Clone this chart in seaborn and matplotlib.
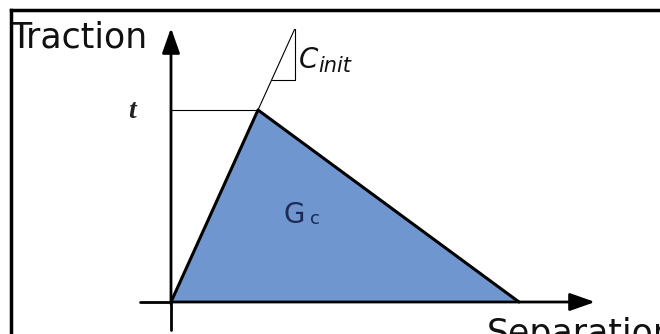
import matplotlib
matplotlib.use("Agg")
import matplotlib.pyplot as plt
import seaborn as sns
import pandas as pd

# Traction-separation law (bilinear), normalised units
separation = [0.0, 1.0, 4.0]      # origin, damage onset, full separation
traction = [0.0, 1.0, 0.0]
stiff_ext = [0.0, 1.42]            # extension of initial stiffness line
onset_label = "t"
x_label = "Separation"
y_label = "Traction"
area_label = "G"
area_sub = "c"
stiff_label = "C"
stiff_sub = "init"

sns.set_theme(style="white")
plt.rcParams["font.family"] = ["DejaVu Sans"]

# pixel geometry -> data scaling
W, H = 660, 334
ox, oy = 171, 302
sx, sy = 87.0, 192.0

fig = plt.figure(figsize=(W / 100, H / 100), dpi=100)
ax = fig.add_axes([0, 0, 1, 1])
ax.set_xlim(-ox / sx, (W - ox) / sx)
ax.set_ylim(-(H - oy) / sy, oy / sy)
ax.axis("off")

df = pd.DataFrame({"sep": separation, "trac": traction})

# filled area (fracture energy)
ax.fill(df["sep"], df["trac"], color="#7096cf", zorder=1, lw=0)

# outer frame
ax.plot([-160 / sx, -160 / sx], [-1, 292 / sy], color="black", lw=2.5, zorder=5, solid_capstyle="projecting")
ax.plot([-160 / sx, 10], [292 / sy, 292 / sy], color="black", lw=2.5, zorder=5, solid_capstyle="projecting")

arrow = dict(arrowstyle="-|>,head_length=0.85,head_width=0.3", lw=2.0, color="black",
             shrinkA=0, shrinkB=0, mutation_scale=18)
# axes with arrows
ax.plot([0, 0], [-28 / sy, 0.0], color="black", lw=2.0, zorder=3)
ax.annotate("", xy=(0, 274 / sy), xytext=(0, -0.01), arrowprops=arrow, zorder=3)
ax.plot([-31 / sx, 0.0], [0, 0], color="black", lw=2.0, zorder=3)
ax.annotate("", xy=(424 / sx, 0), xytext=(0, 0), arrowprops=arrow, zorder=3)

# triangle edges
sns.lineplot(data=df, x="sep", y="trac", sort=False, estimator=None, color="black", lw=2.2, ax=ax, zorder=4)

# onset guide line and stiffness extension
ax.plot([0, separation[1]], [traction[1], traction[1]], color="black", lw=0.8, zorder=2)
ax.plot([separation[1], stiff_ext[1]], [traction[1], stiff_ext[1]], color="black", lw=0.8, zorder=2)
# small slope triangle
yb = (302 - 80) / sy
ax.plot([yb, stiff_ext[1], stiff_ext[1]], [yb, yb, stiff_ext[1]], color="black", lw=0.8, zorder=2)

# texts
ax.text(-161 / sx, 255 / sy, y_label, fontsize=25, color="#111111", ha="left", va="baseline")
ax.text(316 / sx, -42 / sy, x_label, fontsize=25, color="#111111", ha="left", va="baseline")
ax.text(-43 / sx, 184 / sy, onset_label, fontsize=20, fontstyle="italic", fontweight="bold",
        family="Liberation Serif", color="#222222", ha="left", va="baseline")
ax.text(128 / sx, 234 / sy, stiff_label, fontsize=20, fontstyle="italic", color="#111111", ha="left", va="baseline")
ax.text(147 / sx, 230 / sy, stiff_sub, fontsize=15, fontstyle="italic", color="#111111", ha="left", va="baseline")
ax.text(113 / sx, 79 / sy, area_label, fontsize=20, color="#1c2a55", ha="left", va="baseline")
ax.text(139 / sx, 78 / sy, area_sub, fontsize=13, color="#1c2a55", ha="left", va="baseline")

fig.savefig("out.png", dpi=100)
